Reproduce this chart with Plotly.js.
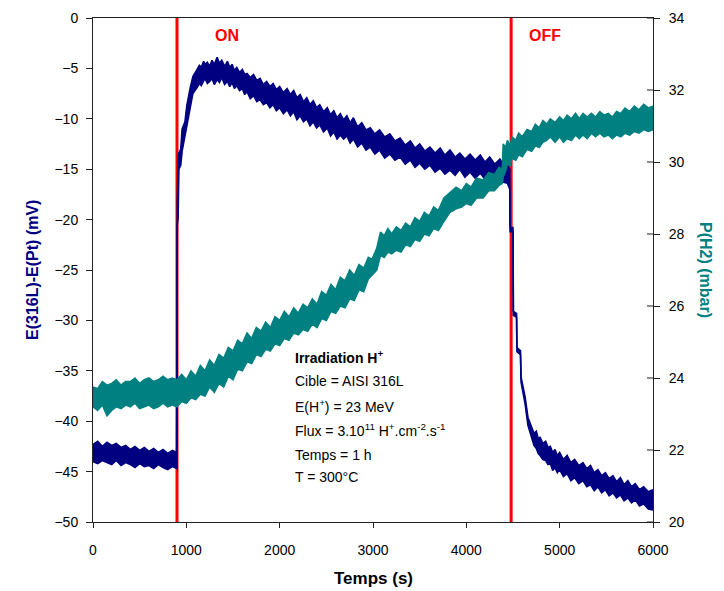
<!DOCTYPE html>
<html>
<head>
<meta charset="utf-8">
<script src="https://cdn.plot.ly/plotly-3.0.1.min.js"></script>
<style>html,body{margin:0;padding:0;background:#fff;}#chart{width:724px;height:591px;}</style>
</head>
<body>
<div id="chart"></div>
<script>
// ---- Data ----
// E(316L)-E(Pt) (mV): [time (s), upper edge of noisy band, lower edge]
const bluePoints = [
  [0,-42.3,-44.0],[50,-42.0,-44.2],[100,-42.5,-43.9],[150,-42.1,-44.1],[200,-42.4,-44.3],[250,-42.2,-43.9],
  [300,-42.6,-44.4],[350,-42.4,-44.1],[400,-42.8,-44.3],[450,-42.5,-44.6],[500,-42.9,-44.2],[550,-42.6,-44.5],
  [600,-43.0,-44.4],[650,-42.7,-44.7],[700,-43.1,-44.3],[750,-42.8,-44.6],[800,-43.2,-44.8],[850,-42.9,-44.5],
  [896,-43.1,-44.7],[900,-19.5,-44.7],[903,-18.5,-20.5],[912,-14.0,-19.8],[920,-13.4,-15.0],[940,-13.0,-14.6],
  [955,-11.0,-13.2],[985,-10.3,-11.8],[1005,-8.7,-10.5],[1040,-7.0,-9.1],[1070,-5.8,-7.5],[1115,-5.1,-6.9],
  [1140,-4.7,-6.5],[1160,-4.9,-6.7],[1185,-4.3,-6.2],[1200,-4.6,-6.0],[1225,-4.4,-6.5],[1250,-4.8,-6.3],
  [1275,-4.2,-6.0],[1300,-4.6,-6.6],[1330,-3.9,-6.1],[1355,-4.5,-6.4],[1380,-4.2,-5.9],[1410,-4.8,-6.6],
  [1440,-4.3,-6.3],[1465,-4.9,-6.8],[1490,-4.6,-6.4],[1515,-5.2,-7.0],[1540,-4.9,-6.7],[1570,-5.4,-7.2],
  [1600,-5.1,-7.0],[1625,-5.6,-7.6],[1650,-5.5,-7.3],[1685,-5.9,-8.0],[1720,-5.6,-7.7],[1755,-6.2,-8.3],
  [1790,-6.0,-8.1],[1825,-6.6,-8.6],[1860,-6.3,-8.4],[1895,-6.8,-8.9],[1930,-6.5,-8.6],[1965,-7.1,-9.2],
  [2000,-6.8,-8.9],[2040,-7.4,-9.5],[2080,-7.0,-9.1],[2115,-7.6,-9.7],[2150,-7.2,-9.3],[2185,-7.9,-10.1],
  [2220,-7.6,-9.7],[2255,-8.3,-10.3],[2290,-7.9,-10.0],[2325,-8.6,-10.7],[2360,-8.2,-10.3],[2395,-8.9,-10.9],
  [2430,-8.6,-10.6],[2470,-9.3,-11.3],[2510,-8.9,-10.9],[2545,-9.6,-11.7],[2580,-9.2,-11.3],[2615,-9.9,-12.0],
  [2650,-9.5,-11.6],[2685,-10.1,-12.0],[2720,-9.7,-11.7],[2755,-10.4,-12.4],[2790,-9.9,-12.0],[2835,-10.8,-12.8],
  [2880,-10.4,-12.4],[2925,-11.1,-13.1],[2970,-10.9,-12.8],[3020,-11.5,-13.5],[3070,-11.1,-13.1],[3125,-11.8,-13.9],
  [3180,-11.5,-13.5],[3235,-12.2,-14.1],[3290,-11.9,-13.8],[3345,-12.6,-14.5],[3400,-12.2,-14.1],[3450,-12.9,-14.8],
  [3500,-12.5,-14.4],[3555,-13.2,-15.0],[3610,-12.8,-14.6],[3665,-13.4,-15.3],[3720,-12.9,-14.9],[3770,-13.6,-15.5],
  [3825,-13.1,-15.1],[3880,-13.8,-15.6],[3930,-13.4,-15.0],[3985,-14.0,-15.8],[4040,-13.5,-15.3],[4095,-14.1,-15.9],
  [4150,-13.6,-15.4],[4200,-14.3,-16.0],[4250,-13.8,-15.6],[4305,-14.5,-16.1],[4360,-14.0,-15.7],[4400,-14.6,-16.3],
  [4440,-14.4,-16.4],[4466,-15.0,-17.0],[4469,-20.8,-21.2],[4500,-20.8,-21.2],[4504,-29.1,-29.5],[4538,-29.3,-29.7],
  [4542,-32.7,-33.1],[4580,-33.0,-33.4],[4586,-35.6,-36.1],[4630,-37.6,-38.3],[4660,-39.6,-40.4],[4700,-40.6,-41.8],
  [4725,-41.2,-42.4],[4750,-41.0,-42.7],[4770,-41.7,-43.2],[4790,-41.6,-43.4],[4820,-42.2,-43.8],[4850,-42.0,-43.9],
  [4875,-42.6,-44.3],[4900,-42.5,-44.2],[4925,-43.1,-44.9],[4950,-42.8,-44.6],[4975,-43.4,-45.1],[5000,-43.1,-44.8],
  [5040,-43.8,-45.5],[5080,-43.4,-45.2],[5120,-44.1,-45.9],[5160,-43.8,-45.6],[5205,-44.4,-46.2],[5250,-44.1,-45.9],
  [5290,-44.7,-46.5],[5330,-44.4,-46.3],[5370,-45.1,-46.9],[5410,-44.8,-46.5],[5450,-45.4,-47.1],[5490,-45.1,-46.8],
  [5530,-45.7,-47.4],[5570,-45.4,-47.1],[5610,-46.0,-47.6],[5650,-45.6,-47.3],[5690,-46.3,-47.9],[5730,-45.9,-47.6],
  [5770,-46.5,-48.1],[5810,-46.2,-47.8],[5855,-46.8,-48.4],[5900,-46.5,-48.2],[5950,-47.0,-48.7],[6000,-46.8,-48.8]
];

// P(H2) (mbar): [time (s), upper edge of noisy band, lower edge]
const tealPoints = [
  [0,23.75,23.2],[50,23.7,23.1],[100,23.9,23.25],[150,23.8,22.95],[200,23.85,23.1],[250,23.95,23.2],
  [300,23.8,23.15],[350,23.9,23.25],[400,23.9,23.2],[450,24.0,23.3],[500,23.85,23.15],[550,23.95,23.2],
  [600,24.0,23.25],[650,23.9,23.15],[700,23.95,23.2],[750,24.05,23.3],[800,23.95,23.2],[850,24.0,23.25],
  [900,23.95,23.2],[950,24.1,23.35],[1000,23.95,23.3],[1050,24.2,23.45],[1100,24.05,23.4],[1150,24.35,23.55],
  [1200,24.2,23.5],[1250,24.5,23.75],[1300,24.35,23.6],[1350,24.65,23.85],[1400,24.55,23.75],[1450,24.85,24.05],
  [1500,24.75,23.95],[1550,25.05,24.25],[1600,24.95,24.2],[1650,25.25,24.45],[1700,25.1,24.4],[1750,25.4,24.65],
  [1800,25.3,24.6],[1850,25.55,24.8],[1900,25.4,24.75],[1950,25.7,24.95],[2000,25.6,24.9],[2050,25.85,25.1],
  [2100,25.7,25.05],[2150,25.95,25.25],[2200,25.8,25.2],[2250,26.05,25.35],[2300,25.95,25.3],[2350,26.2,25.5],
  [2400,26.05,25.4],[2450,26.4,25.65],[2500,26.3,25.6],[2550,26.6,25.85],[2600,26.45,25.8],[2650,26.8,26.0],
  [2700,26.7,25.95],[2750,27.0,26.2],[2800,26.85,26.15],[2850,27.15,26.45],[2900,27.05,26.4],[2950,27.35,26.75],
  [2990,27.3,26.85],[3040,27.6,27.0],[3080,28.05,27.4],[3120,27.95,27.35],[3160,28.15,27.5],[3200,28.0,27.45],
  [3250,28.2,27.55],[3300,28.1,27.5],[3350,28.3,27.7],[3400,28.2,27.65],[3450,28.45,27.85],[3500,28.35,27.8],
  [3550,28.6,28.0],[3600,28.5,27.95],[3650,28.75,28.15],[3700,28.65,28.1],[3760,29.0,28.35],[3825,29.15,28.6],
  [3890,29.3,28.7],[3950,29.2,28.75],[4000,29.4,28.85],[4050,29.3,28.8],[4110,29.55,29.0],[4180,29.5,29.0],
  [4240,29.7,29.2],[4300,29.65,29.2],[4350,29.85,29.35],[4385,29.8,29.4],[4395,30.5,29.6],[4420,30.4,29.75],
  [4440,30.6,29.95],[4470,30.45,29.9],[4490,30.7,30.1],[4530,30.6,30.05],[4560,30.8,30.2],[4600,30.7,30.15],
  [4650,30.9,30.35],[4700,30.85,30.3],[4740,31.05,30.45],[4780,30.95,30.4],[4820,31.15,30.55],[4860,31.05,30.6],
  [4900,31.2,30.7],[4950,31.1,30.55],[5000,31.25,30.7],[5040,31.15,30.55],[5080,31.3,30.65],[5125,31.2,30.6],
  [5170,31.35,30.75],[5210,31.2,30.65],[5250,31.35,30.75],[5295,31.25,30.65],[5340,31.35,30.8],[5385,31.25,30.7],
  [5430,31.4,30.8],[5475,31.3,30.7],[5520,31.35,30.75],[5565,31.25,30.65],[5610,31.4,30.75],[5655,31.35,30.7],
  [5700,31.5,30.8],[5750,31.4,30.75],[5800,31.55,30.85],[5850,31.45,30.8],[5900,31.6,30.9],[5950,31.5,30.85],
  [6000,31.55,30.9]
];

const eventTimes = [900, 4480];
const eventLabels = ['ON', 'OFF'];

const xTicks = [0,1000,2000,3000,4000,5000,6000];
const yTicks = [0,-5,-10,-15,-20,-25,-30,-35,-40,-45,-50];
const y2Ticks = [20,22,24,26,28,30,32,34];

const infoLines = [
  '<b>Irradiation H<sup>+</sup></b>',
  'Cible = AISI 316L',
  'E(H<sup>+</sup>) = 23 MeV',
  'Flux = 3.10<sup>11</sup> H<sup>+</sup>.cm<sup>-2</sup>.s<sup>-1</sup>',
  'Temps = 1 h',
  'T = 300°C'
];

// ---- Styling / layout ----
const NAVY = '#000080', TEAL = '#008080', RED = '#ff0000';
const FONT = 'Liberation Sans, Arial, sans-serif';
const W = 724, H = 591, L = 93, R = 71, T = 18, B = 69;
const pw = W - L - R, ph = H - T - B;
const px2x = p => (p - L) / pw;
const py2y = p => (H - B - p) / ph;

const col = (arr, i) => arr.map(r => r[i]);

const traces = [
  {x: col(bluePoints,0), y: col(bluePoints,2), type: 'scatter', mode: 'lines', line: {color: NAVY, width: 1.6}, hoverinfo: 'skip', showlegend: false},
  {x: col(bluePoints,0), y: col(bluePoints,1), type: 'scatter', mode: 'lines', fill: 'tonexty', fillcolor: NAVY, line: {color: NAVY, width: 1.6}, hoverinfo: 'skip', showlegend: false},
  {x: col(tealPoints,0), y: col(tealPoints,2), yaxis: 'y2', type: 'scatter', mode: 'lines', line: {color: TEAL, width: 1.6}, hoverinfo: 'skip', showlegend: false},
  {x: col(tealPoints,0), y: col(tealPoints,1), yaxis: 'y2', type: 'scatter', mode: 'lines', fill: 'tonexty', fillcolor: TEAL, line: {color: TEAL, width: 1.6}, hoverinfo: 'skip', showlegend: false}
];

const shapes = eventTimes.map(t => ({
  type: 'line', xref: 'x', yref: 'paper', x0: t, x1: t, y0: 0, y1: 1,
  line: {color: RED, width: 3}, layer: 'below'
}));
// right axis ticks cross the axis line: add the inner half
y2Ticks.forEach(v => shapes.push({
  type: 'line', xref: 'paper', yref: 'y2', xsizemode: 'pixel', xanchor: 1,
  x0: -6, x1: 0, y0: v, y1: v, line: {color: '#222', width: 1}
}));

const labelShift = [36, 16];
const annotations = eventTimes.map((t, i) => ({
  x: t, y: py2y(36), xref: 'x', yref: 'paper', xanchor: 'left', yanchor: 'middle',
  xshift: labelShift[i], text: '<b>' + eventLabels[i] + '</b>', showarrow: false,
  font: {family: FONT, size: 16, color: RED}
}));
const lineY = [357, 381, 406, 430, 455, 477];
infoLines.forEach((s, i) => annotations.push({
  x: px2x(293), y: py2y(lineY[i]), xref: 'paper', yref: 'paper', xanchor: 'left', yanchor: 'middle',
  text: s, showarrow: false, font: {family: FONT, size: 14, color: '#000'}
}));
annotations.push({
  x: px2x(32), y: py2y(270), xref: 'paper', yref: 'paper', xanchor: 'center', yanchor: 'middle',
  text: '<b>E(316L)-E(Pt) (mV)</b>', textangle: -90, showarrow: false,
  font: {family: FONT, size: 16, color: NAVY}
});
annotations.push({
  x: px2x(706), y: py2y(270), xref: 'paper', yref: 'paper', xanchor: 'center', yanchor: 'middle',
  text: '<b>P(H2) (mbar)</b>', textangle: 90, showarrow: false,
  font: {family: FONT, size: 16, color: TEAL}
});
annotations.push({
  x: px2x(373), y: py2y(578), xref: 'paper', yref: 'paper', xanchor: 'center', yanchor: 'middle',
  text: '<b>Temps (s)</b>', showarrow: false,
  font: {family: FONT, size: 17, color: '#000'}
});

const axisCommon = {
  showgrid: false, zeroline: false, showline: true, linecolor: '#222', linewidth: 1,
  ticks: 'outside', tickcolor: '#222', tickfont: {family: FONT, size: 14, color: '#000'}
};

const layout = {
  width: W, height: H,
  margin: {l: L, r: R, t: T, b: B, pad: 0},
  paper_bgcolor: '#fff', plot_bgcolor: '#fff',
  font: {family: FONT},
  showlegend: false,
  xaxis: Object.assign({}, axisCommon, {range: [0, 6000], tickvals: xTicks, ticklen: 5, mirror: true, ticklabelstandoff: 10}),
  yaxis: Object.assign({}, axisCommon, {range: [-50, 0], tickvals: yTicks, ticklen: 6, ticklabelstandoff: 5}),
  yaxis2: Object.assign({}, axisCommon, {range: [20, 34], tickvals: y2Ticks, ticklen: 6, overlaying: 'y', side: 'right', ticklabelstandoff: 6}),
  shapes: shapes,
  annotations: annotations
};

Plotly.newPlot('chart', traces, layout, {staticPlot: true, displayModeBar: false});
</script>
</body>
</html>
